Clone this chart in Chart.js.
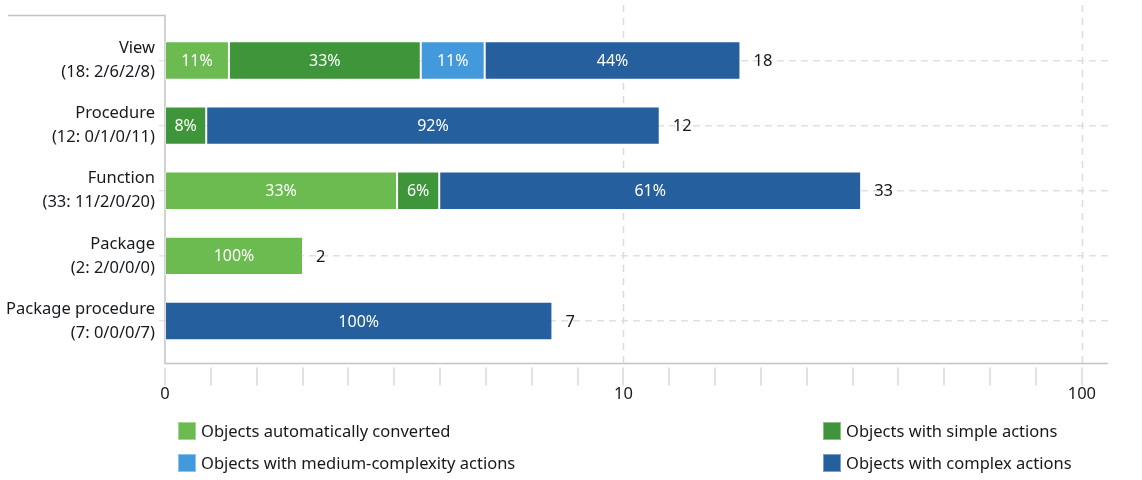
<!DOCTYPE html>
<html>
<head>
<meta charset="utf-8">
<script src="https://cdn.jsdelivr.net/npm/chart.js@4.4.1/dist/chart.umd.min.js"></script>
<style>
  html, body { margin: 0; padding: 0; background: #fff; }
  #wrap { position: relative; width: 1142px; height: 480px; font-family: "Noto Sans", sans-serif; }
  #legend { position: absolute; left: 0; top: 0; width: 1142px; height: 480px; pointer-events: none; }
  .li { position: absolute; display: flex; align-items: center; font-size: 16.5px; color: #16191f; white-space: nowrap; }
  .li span.box { width: 18px; height: 18px; margin-right: 5px; box-sizing: border-box; border: 1px solid rgba(255,255,255,0.4); }
</style>
</head>
<body>
<div id="wrap">
  <canvas id="Chart" width="1142" height="480"></canvas>
  <div id="legend"></div>
</div>
<script>
const categories = ["View", "Procedure", "Function", "Package", "Package procedure"];
const autoConverted = [2, 0, 11, 2, 0];
const simpleActions = [6, 1, 2, 0, 0];
const mediumActions = [2, 0, 0, 0, 0];
const complexActions = [8, 11, 20, 0, 7];
const seriesNames = [
  "Objects automatically converted",
  "Objects with simple actions",
  "Objects with medium-complexity actions",
  "Objects with complex actions"
];
const seriesColors = ["#6cbb51", "#3f953a", "#4299dc", "#255f9e"];
const xTickLabels = ["0", "10", "100"];

const series = [autoConverted, simpleActions, mediumActions, complexActions];
const totals = categories.map((c, i) => series.reduce((s, arr) => s + arr[i], 0));

// bar length is log10(total), split by share of each group
const datasets = series.map((arr, k) => ({
  label: seriesNames[k],
  data: arr.map((v, i) => totals[i] > 0 ? (v / totals[i]) * Math.log10(totals[i]) : 0),
  counts: arr,
  backgroundColor: seriesColors[k],
  borderColor: "rgba(255,255,255,0.35)",
  borderWidth: 1,
  borderSkipped: false,
  barPercentage: 0.59,
  categoryPercentage: 1
}));

const labels = categories.map((c, i) =>
  [c, "(" + totals[i] + ": " + series.map(a => a[i]).join("/") + ")"]);

const framePlugin = {
  id: "frame",
  beforeDatasetsDraw(chart) {
    const { ctx, chartArea, scales } = chart;
    const x = scales.x;
    const axisY = chartArea.bottom + 10;
    ctx.save();
    // dashed verticals at decades
    ctx.strokeStyle = "#dcdcdc";
    ctx.lineWidth = 1.5;
    ctx.setLineDash([7, 6]);
    [1, 2].forEach(v => {
      const px = Math.round(x.getPixelForValue(v)) + 0.5;
      ctx.beginPath();
      ctx.moveTo(px, 5);
      ctx.lineTo(px, axisY);
      ctx.stroke();
    });
    ctx.setLineDash([]);
    // axis frame
    ctx.strokeStyle = "#c4c4c4";
    ctx.lineWidth = 1.5;
    ctx.beginPath();
    ctx.moveTo(8, 15.5);
    ctx.lineTo(chartArea.left, 15.5);
    ctx.lineTo(chartArea.left, axisY);
    ctx.lineTo(chartArea.right, axisY);
    ctx.stroke();
    // minor tick marks below the axis
    ctx.strokeStyle = "#e2e2e2";
    ctx.lineWidth = 2;
    x.ticks.forEach(t => {
      if (t.value > 2.0001) return;
      const px = Math.round(x.getPixelForValue(t.value));
      ctx.beginPath();
      ctx.moveTo(px, axisY + 4);
      ctx.lineTo(px, axisY + 22);
      ctx.stroke();
    });
    ctx.restore();
  },
  afterDatasetsDraw(chart) {
    const { ctx } = chart;
    ctx.save();
    ctx.font = "16px 'Noto Sans'";
    ctx.textBaseline = "middle";
    chart.data.datasets.forEach((ds, k) => {
      const meta = chart.getDatasetMeta(k);
      meta.data.forEach((bar, i) => {
        const n = ds.counts[i];
        if (!n) return;
        const pct = Math.round(n / totals[i] * 100) + "%";
        ctx.fillStyle = "#ffffff";
        ctx.textAlign = "center";
        ctx.fillText(pct, (bar.x + bar.base) / 2, bar.y + 1);
      });
    });
    // totals right of each bar
    ctx.font = "16.5px 'Noto Sans'";
    const last = chart.getDatasetMeta(chart.data.datasets.length - 1);
    last.data.forEach((bar, i) => {
      ctx.fillStyle = "#16191f";
      ctx.textAlign = "left";
      ctx.fillText(String(totals[i]), bar.x + 13, bar.y + 1);
    });
    ctx.restore();
  }
};

new Chart(document.getElementById("Chart"), {
  type: "bar",
  data: { labels: labels, datasets: datasets },
  plugins: [framePlugin],
  options: {
    indexAxis: "y",
    responsive: false,
    animation: false,
    layout: { padding: { top: 28, right: 34, left: 0, bottom: 0 } },
    plugins: { legend: { display: false }, tooltip: { enabled: false } },
    scales: {
      x: {
        stacked: true,
        type: "linear",
        min: 0,
        max: 2.057,
        afterFit: (s) => { s.height = 126.5; },
        border: { display: false },
        grid: { display: false, drawTicks: false },
        ticks: {
          stepSize: 0.1,
          includeBounds: false,
          autoSkip: false,
          maxRotation: 0,
          padding: 31,
          color: "#16191f",
          font: { family: "Noto Sans", size: 16.5 },
          callback: (v) => {
            const r = Math.round(v);
            return Math.abs(v - r) < 1e-6 && xTickLabels[r] !== undefined ? xTickLabels[r] : "";
          }
        }
      },
      y: {
        stacked: true,
        afterFit: (s) => { s.width = 165; },
        border: { display: false, dash: [7, 5] },
        grid: { offset: false, color: "#e0e0e0", lineWidth: 1.5, tickLength: 6, tickColor: "#e6e6e6", tickBorderDash: [] },
        ticks: {
          padding: 4,
          color: "#16191f",
          font: { family: "Noto Sans", size: 16.5, lineHeight: 1.45 }
        }
      }
    }
  }
});

const legendEl = document.getElementById("legend");
const legendPos = [[178, 431], [823, 431], [178, 463], [823, 463]];
seriesNames.forEach((name, k) => {
  const d = document.createElement("div");
  d.className = "li";
  d.style.left = legendPos[k][0] + "px";
  d.style.top = (legendPos[k][1] - 12) + "px";
  d.innerHTML = '<span class="box" style="background:' + seriesColors[k] + '"></span>' + name;
  legendEl.appendChild(d);
});
</script>
</body>
</html>
